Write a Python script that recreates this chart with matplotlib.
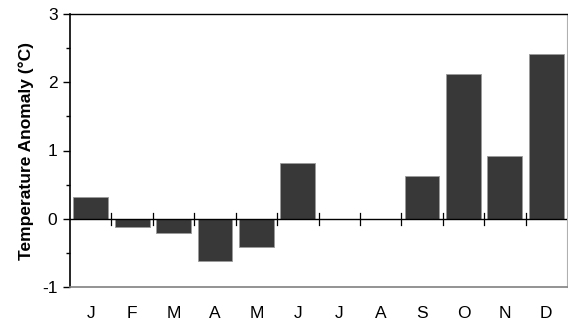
import matplotlib
matplotlib.use("Agg")
import matplotlib.pyplot as plt
import numpy as np

months = ["J", "F", "M", "A", "M", "J", "J", "A", "S", "O", "N", "D"]
anomaly = [0.32, -0.12, -0.21, -0.62, -0.42, 0.82, np.nan, np.nan, 0.63, 2.12, 0.92, 2.42]
yticks = [-1, 0, 1, 2, 3]
yticklabels = ["-1", "0", "1", "2", "3"]

plt.rcParams['font.family'] = ['Liberation Sans', 'DejaVu Sans']

fig = plt.figure(figsize=(5.68, 3.22), dpi=100)
ax = fig.add_axes([70/568, 1 - 287/322, (567 - 70)/568, (287 - 14)/322])

x = np.arange(len(months))
vals = [0 if np.isnan(v) else v for v in anomaly]
ax.bar(x, vals, width=0.84, color="#383838", edgecolor="#9a9a9a", linewidth=0.6, zorder=2)

ax.set_xlim(-0.5, len(months) - 0.5)
ax.set_ylim(-1, 3)
ax.axhline(0, color="black", linewidth=1.0, zorder=3)

# tick marks on zero line at category boundaries
for b in np.arange(0.5, len(months) - 0.5, 1.0):
    ax.plot([b, b], [-0.09, 0.09], color="black", linewidth=0.9, zorder=4, clip_on=False)

ax.set_xticks(x)
ax.set_xticklabels(months, fontsize=12.5)
ax.tick_params(axis="x", length=0, pad=14)

ax.set_yticks(yticks)
ax.set_yticklabels(yticklabels, fontsize=12.5)
ax.set_yticks([-0.5, 0.5, 1.5, 2.5], minor=True)
ax.tick_params(axis="y", which="major", direction="out", length=5, width=1, pad=4)
ax.tick_params(axis="y", which="minor", direction="out", length=3, width=1)

ax.spines["left"].set_color("black")
ax.spines["left"].set_linewidth(1.2)
ax.spines["top"].set_color("black")
ax.spines["top"].set_linewidth(1.0)
ax.spines["right"].set_color("#b0b0b0")
ax.spines["right"].set_linewidth(0.8)
ax.spines["bottom"].set_color("#808080")
ax.spines["bottom"].set_linewidth(1.2)

ax.set_ylabel("Temperature Anomaly (°C)", fontsize=12.5, fontweight="bold", labelpad=6)

fig.savefig("out.png", dpi=100)
